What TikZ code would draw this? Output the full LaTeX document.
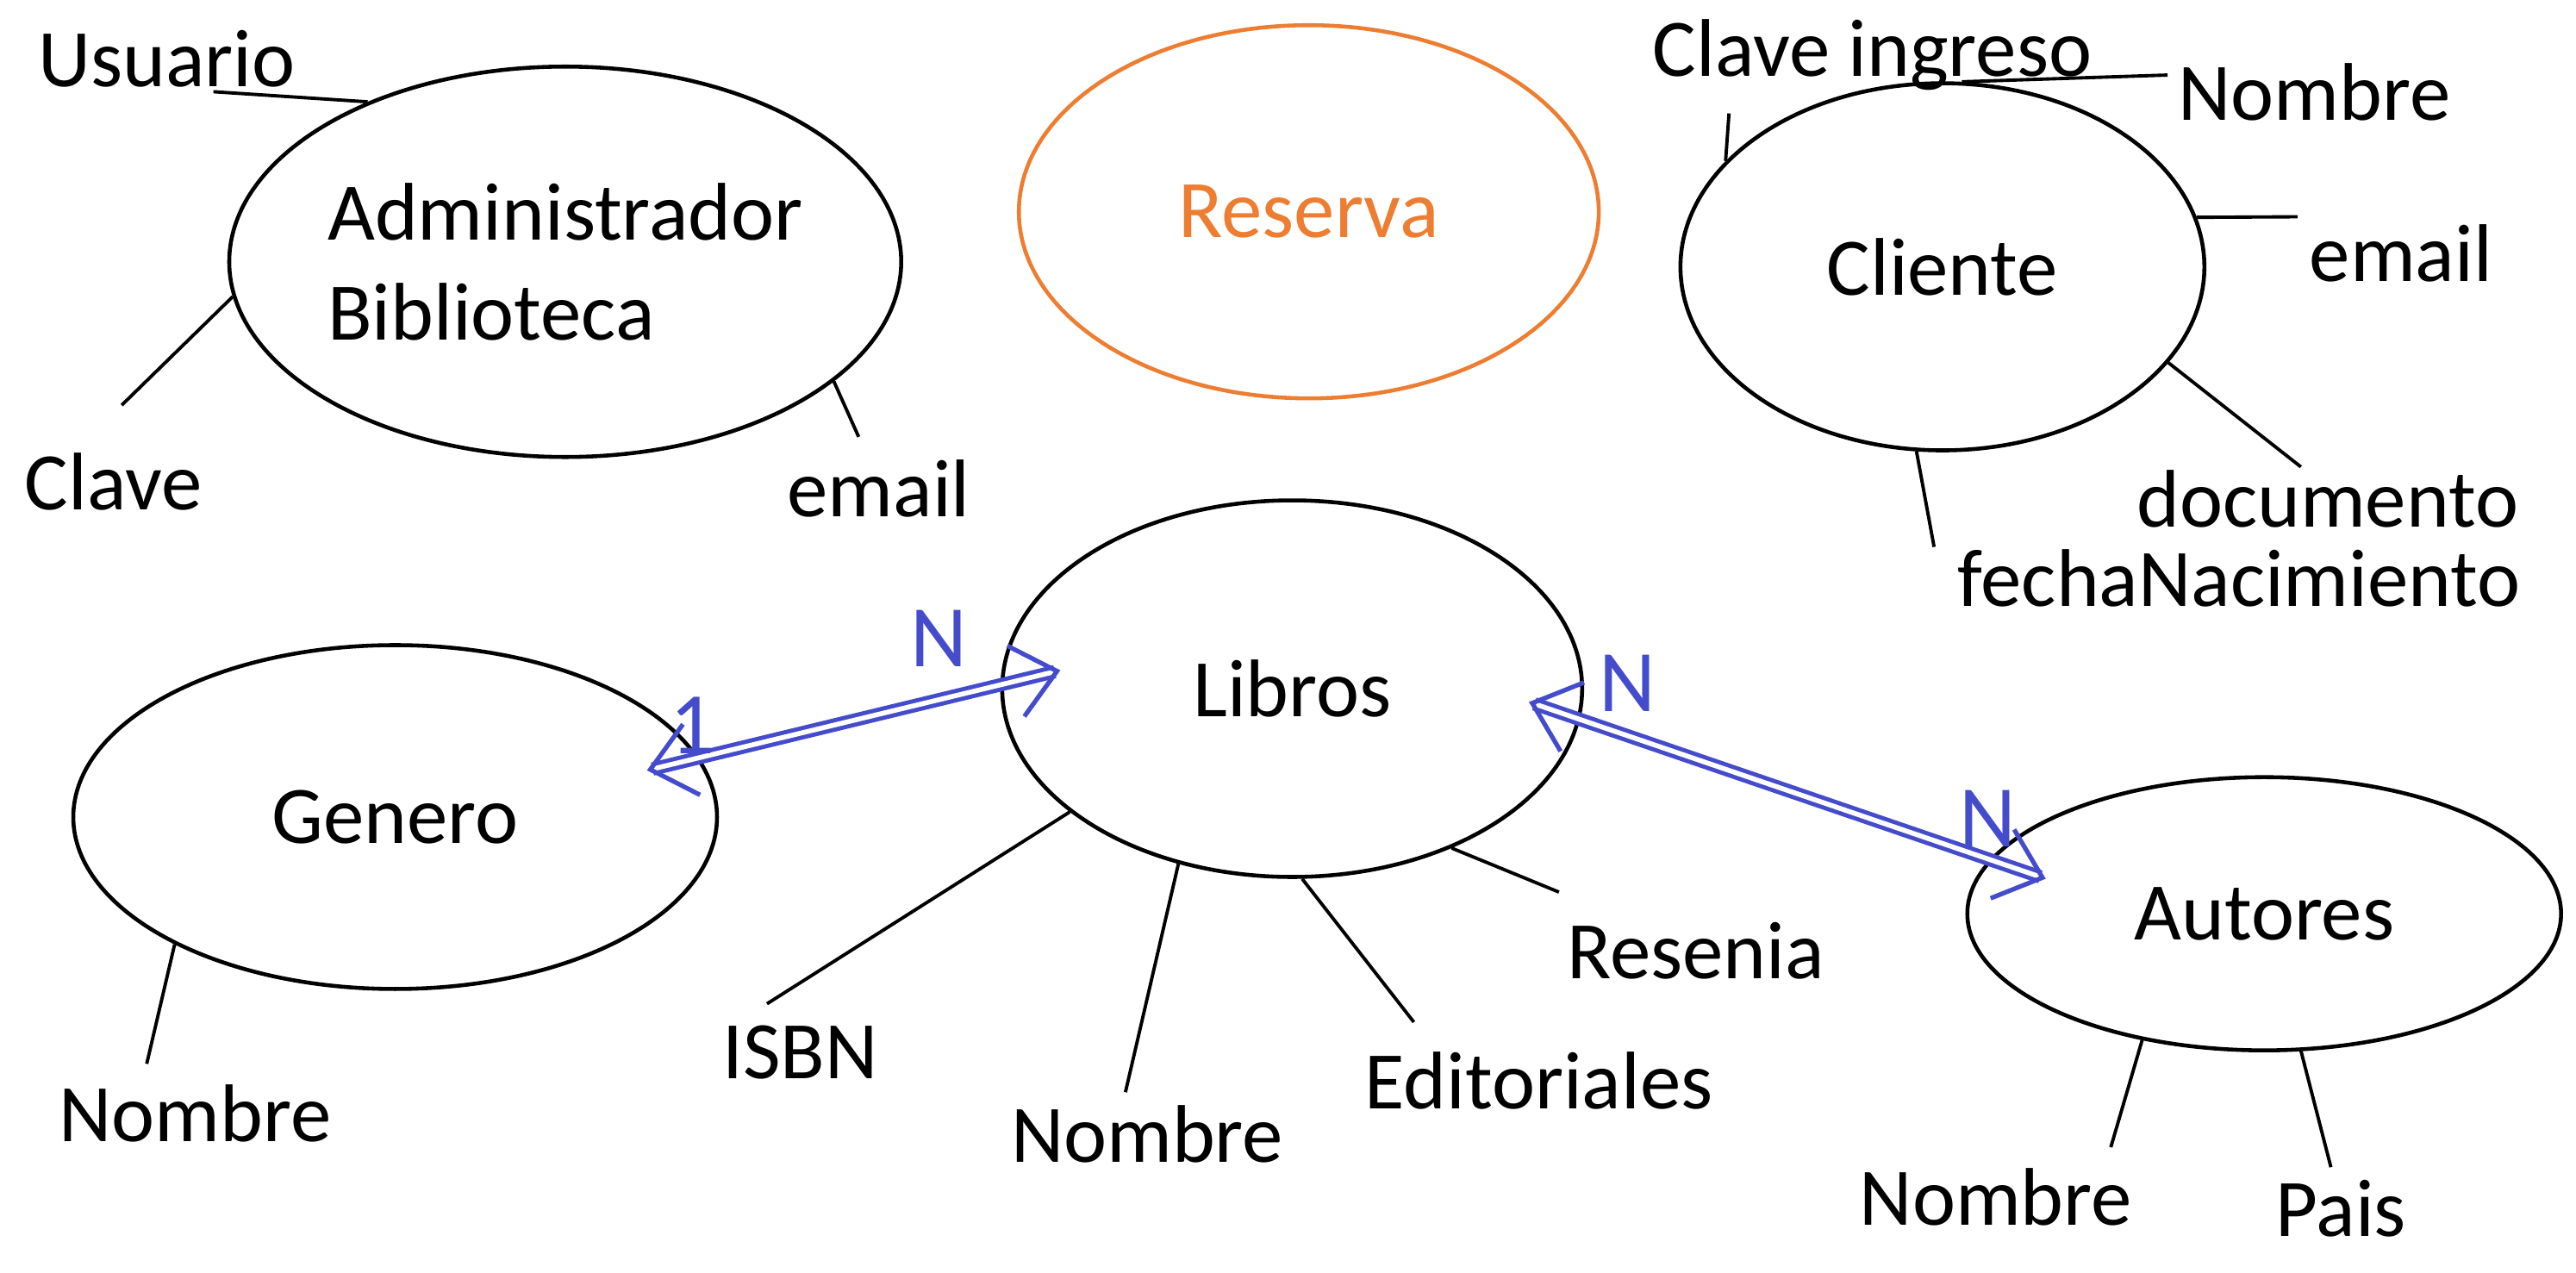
\documentclass[tikz,border=0pt]{standalone}
\usepackage{fontspec}
\setmainfont{Carlito}
\usetikzlibrary{arrows.meta,shapes.geometric}
\definecolor{azul}{RGB}{68, 76, 204}
\definecolor{naranja}{RGB}{237, 125, 49}

\begin{document}
\begin{tikzpicture}[x=0.01935cm, y=-0.01935cm,
entidad/.style={ellipse, draw, line width=1.3pt, inner sep=0pt, font=\fontsize{27}{33}\selectfont},
atributo/.style={font=\fontsize{27}{33}\selectfont},
relacion/.style={draw=azul, line width=1.4pt, double=white, double distance=1.6pt, {Straight Barb[length=14pt,width=24pt,line width=1.5pt]}-{Straight Barb[length=14pt,width=24pt,line width=1.5pt]}},
card/.style={text=azul, font=\fontsize{29}{34}\selectfont},
]
\useasboundingbox (0,0) rectangle (1545,763);
%Nodes
\node[entidad, minimum width=7.74cm, minimum height=4.53cm, align=left] (admin) at (339,157) {Administrador\\Biblioteca};
\node[entidad, draw=naranja, text=naranja, minimum width=6.73cm, minimum height=4.33cm] (reserva) at (785,127) {Reserva};
\node[entidad, minimum width=6.08cm, minimum height=4.26cm] (cliente) at (1165,160) {Cliente};
\node[entidad, minimum width=6.73cm, minimum height=4.37cm] (libros) at (775,413) {Libros};
\node[entidad, minimum width=7.47cm, minimum height=3.99cm] (genero) at (237,490) {Genero};
\node[entidad, minimum width=6.89cm, minimum height=3.17cm] (autores) at (1358,548) {Autores};

\node[atributo] (usuario) at (100,35) {Usuario};
\node[atributo] (clave) at (68,289) {Clave};
\node[atributo] (emailA) at (527,293) {email};

\node[atributo] (claveI) at (1123,33) {Clave ingreso};
\node[atributo] (nombreC) at (1388,55) {Nombre};
\node[atributo] (emailC) at (1440,152) {email};
\node[atributo] (documento) at (1396,299) {documento};
\node[atributo] (fecha) at (1343,347) {fechaNacimiento};

\node[atributo] (isbn) at (480,631) {ISBN};
\node[atributo] (nombreL) at (688,680) {Nombre};
\node[atributo] (editoriales) at (923,648) {Editoriales};
\node[atributo] (resenia) at (1017,570) {Resenia};

\node[atributo] (nombreG) at (117,668) {Nombre};
\node[atributo] (nombreA) at (1197,718) {Nombre};
\node[atributo] (pais) at (1404,725) {Pais};

\coordinate (u1) at (128,55);
\coordinate (c1) at (73,243);
\coordinate (e1) at (515,262);
\coordinate (ci1) at (1037,68);
\coordinate (nc1) at (1300,45);
\coordinate (ec1) at (1378,130);
\coordinate (d1) at (1380,280);
\coordinate (f1) at (1160,328);
\coordinate (i1) at (460,602);
\coordinate (nl1) at (675,655);
\coordinate (ed1) at (848,613);
\coordinate (r1) at (935,535);
\coordinate (ng1) at (88,638);
\coordinate (na1) at (1266,688);
\coordinate (p1) at (1398,700);

\coordinate (genI) at (388,462);
\coordinate (libI) at (636,402);
\coordinate (libD) at (917,421);
\coordinate (autD) at (1227,527);

\draw[line width=1.1pt] (admin.141) -- (u1);
\draw[line width=1.1pt] (admin.186) -- (c1);
\draw[line width=1.1pt] (admin.-24) -- (e1);
\draw[line width=1.1pt] (cliente.154) -- (ci1);
\draw[line width=1.1pt] (cliente.84) -- (nc1);
\draw[line width=1.1pt] (cliente.11) -- (ec1);
\draw[line width=1.1pt] (cliente.-23) -- (d1);
\draw[line width=1.1pt] (cliente.-98) -- (f1);
\draw[line width=1.1pt] (libros.209) -- (i1);
\draw[line width=1.1pt] (libros.237) -- (nl1);
\draw[line width=1.1pt] (libros.-87) -- (ed1);
\draw[line width=1.1pt] (libros.-45) -- (r1);
\draw[line width=1.1pt] (genero.210) -- (ng1);
\draw[line width=1.1pt] (autores.226) -- (na1);
\draw[line width=1.1pt] (autores.-75) -- (p1);

\draw[relacion] (genI) -- (libI);
\draw[relacion] (libD) -- (autD);

\node[card] (uno) at (415,435) {1};
\node[card] (n1) at (563,383) {N};
\node[card] (n2) at (976,410) {N};
\node[card] (n3) at (1192,491) {N};

\end{tikzpicture}
\end{document}
